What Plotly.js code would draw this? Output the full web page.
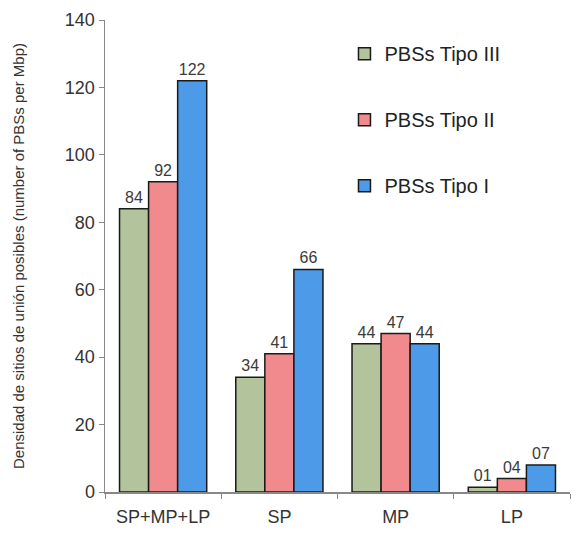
<!DOCTYPE html>
<html><head><meta charset="utf-8">
<script src="https://cdn.plot.ly/plotly-3.0.1.min.js"></script>
<style>html,body{margin:0;padding:0;background:#fff}</style>
</head><body>
<div id="chart" style="width:576px;height:534px"></div>
<script>
const categories = ["SP+MP+LP", "SP", "MP", "LP"];
const seriesNames = ["PBSs Tipo III", "PBSs Tipo II", "PBSs Tipo I"];
const tipoIII = [84, 34, 44, 1.4];
const tipoII = [92, 41, 47, 4];
const tipoI = [122, 66, 44, 8];
const labelsIII = ["84", "34", "44", "01"];
const labelsII = ["92", "41", "47", "04"];
const labelsI = ["122", "66", "44", "07"];
const colors = ["#b3c39b", "#f08a8c", "#4c9ae8"];

const vals = [tipoIII, tipoII, tipoI];
const labs = [labelsIII, labelsII, labelsI];
const traces = vals.map((v, i) => ({
  type: "bar",
  x: categories,
  y: v,
  name: seriesNames[i],
  legendgroup: "g" + i,
  text: labs[i],
  textposition: "outside",
  cliponaxis: false,
  textfont: {family: "Liberation Sans, Arial, sans-serif", size: 16, color: "#3a3a3a"},
  marker: {color: colors[i], line: {color: "#1a1a1a", width: 1.5}}
}));

const layout = {
  width: 576, height: 534,
  margin: {l: 105, r: 6, t: 20, b: 42},
  paper_bgcolor: "#fff", plot_bgcolor: "#fff",
  barmode: "group", bargap: 0.25, bargroupgap: 0,
  font: {family: "Liberation Sans, Arial, sans-serif", color: "#333"},
  xaxis: {
    type: "category",
    showline: true, linecolor: "#888", linewidth: 1.5,
    ticks: "outside", tickson: "boundaries", ticklen: 5, tickcolor: "#888",
    ticklabelstandoff: 8,
    tickfont: {size: 18, color: "#333"},
    showgrid: false, zeroline: false
  },
  yaxis: {
    range: [0, 140], dtick: 20,
    showline: true, linecolor: "#888", linewidth: 1.5,
    ticks: "outside", ticklen: 5, tickcolor: "#888",
    tickfont: {size: 18, color: "#333"},
    showgrid: false, zeroline: false,
    title: {text: "Densidad de sitios de unión posibles (number of PBSs per Mbp)", font: {size: 15, color: "#333"}, standoff: 36}
  },
  legend: {
    x: 0.515, y: 0.97, xanchor: "left", yanchor: "top",
    tracegroupgap: 37, traceorder: "grouped",
    font: {size: 20, color: "#222"}, bgcolor: "rgba(0,0,0,0)"
  },
  showlegend: true
};

Plotly.newPlot("chart", traces, layout, {displayModeBar: false, staticPlot: true});
</script>
</body></html>
